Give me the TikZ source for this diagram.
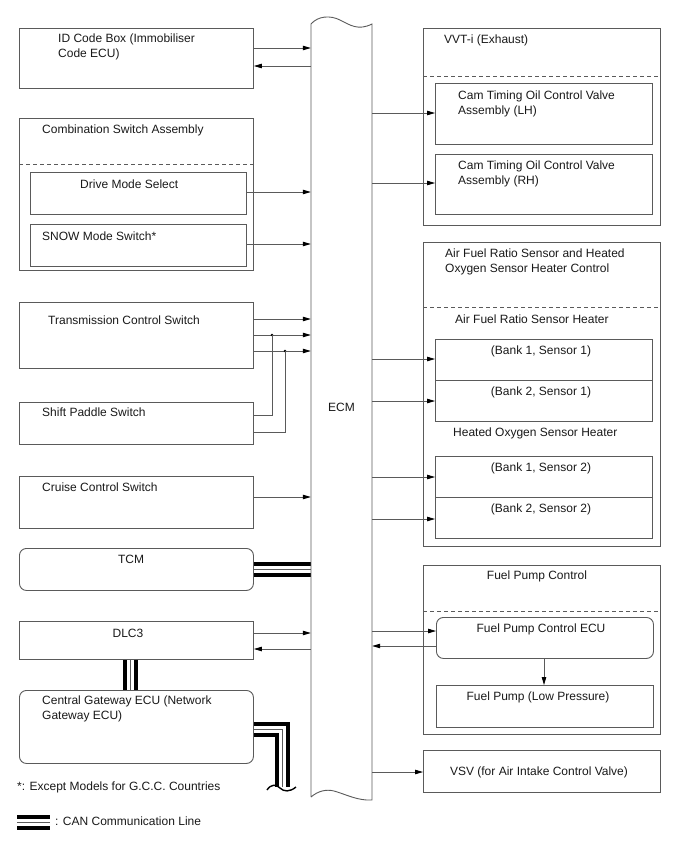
\documentclass[tikz,border=0pt]{standalone}
\usepackage{fontspec}
\setmainfont{Liberation Sans}
\usetikzlibrary{arrows.meta,positioning,calc}
\definecolor{lineGray}{RGB}{90,90,90}
\definecolor{textBlack}{RGB}{25,25,25}

\begin{document}
\begin{tikzpicture}[x=1pt, y=-1pt,
  box/.style={draw=lineGray, line width=0.9pt, inner sep=0, anchor=north west},
  rbox/.style={box, rounded corners=7pt},
  lbl/.style={font=\fontsize{12}{15}\selectfont, text=textBlack, inner sep=0, anchor=west, align=left},
  clbl/.style={lbl, anchor=center, align=center},
  sep/.style={draw=lineGray, line width=0.8pt, dash pattern=on 4pt off 3pt},
  wire/.style={draw=lineGray, line width=0.8pt},
  arr/.style={wire, -{Triangle[length=8pt, width=4.5pt, color=black]}},
  can/.style={draw=black, line width=15pt, postaction={draw=white, line width=7pt}, postaction={draw=lineGray, line width=0.8pt}}]
  \useasboundingbox (0,0) rectangle (688,852);

  % left side
  \node[box, minimum width=234pt, minimum height=60pt] (idbox) at (19,28) {};
  \node[lbl] (idtxt) at (58,46.5) {ID Code Box (Immobiliser\\Code ECU)};

  \node[box, minimum width=234pt, minimum height=152pt] (csa) at (19,118) {};
  \node[lbl] (csatxt) at (42,130) {Combination Switch Assembly};
  \draw[sep] (csa.west |- 0,164) -- (csa.east |- 0,164);
  \node[box, minimum width=216pt, minimum height=42pt] (dms) at (30,172) {};
  \node[lbl] (dmstxt) at (80,184) {Drive Mode Select};
  \node[box, minimum width=216pt, minimum height=42pt] (snow) at (30,224) {};
  \node[lbl] (snowtxt) at (42,236) {SNOW Mode Switch*};

  \node[box, minimum width=234pt, minimum height=66pt] (tcs) at (19,302) {};
  \node[lbl] (tcstxt) at (48,320) {Transmission Control Switch};
  \node[box, minimum width=234pt, minimum height=42pt] (sps) at (19,402) {};
  \node[lbl] (spstxt) at (42,412) {Shift Paddle Switch};
  \node[box, minimum width=234pt, minimum height=52pt] (ccs) at (19,476) {};
  \node[lbl] (ccstxt) at (42,487) {Cruise Control Switch};

  \node[rbox, minimum width=234pt, minimum height=42pt] (tcm) at (19,548) {};
  \node[clbl] (tcmtxt) at (131,559) {TCM};
  \node[box, minimum width=234pt, minimum height=38pt] (dlc) at (19,621) {};
  \node[clbl] (dlctxt) at (128,633) {DLC3};
  \node[rbox, minimum width=234pt, minimum height=73pt] (gw) at (19,690) {};
  \node[lbl] (gwtxt) at (42,709) {Central Gateway ECU (Network\\Gateway ECU)};

  \node[lbl] (note) at (17,787) {*: Except Models for G.C.C. Countries};
  \coordinate (key1) at (17,822);
  \coordinate (key2) at (50,822);
  \node[lbl] (keytxt) at (55,821) {: CAN Communication Line};

  % right side
  \node[box, minimum width=237pt, minimum height=197pt] (vvt) at (423,28) {};
  \node[lbl] (vvttxt) at (444,40) {VVT-i (Exhaust)};
  \draw[sep] (vvt.west |- 0,76) -- (vvt.east |- 0,76);
  \node[box, minimum width=217pt, minimum height=61pt] (lh) at (435,83) {};
  \node[lbl] (lhtxt) at (458,104) {Cam Timing Oil Control Valve\\Assembly (LH)};
  \node[box, minimum width=217pt, minimum height=60pt] (rh) at (435,154) {};
  \node[lbl] (rhtxt) at (458,174) {Cam Timing Oil Control Valve\\Assembly (RH)};

  \node[box, minimum width=237pt, minimum height=304pt] (afr) at (423,242) {};
  \node[lbl] (afrtxt) at (445,262) {Air Fuel Ratio Sensor and Heated\\Oxygen Sensor Heater Control};
  \draw[sep] (afr.west |- 0,307) -- (afr.east |- 0,307);
  \node[lbl] (afhtxt) at (455,319) {Air Fuel Ratio Sensor Heater};
  \node[box, minimum width=217pt, minimum height=41pt] (b1s1) at (435,339) {};
  \node[clbl] (b1s1txt) at (541,351) {(Bank 1, Sensor 1)};
  \node[box, minimum width=217pt, minimum height=41pt] (b2s1) at (435,380) {};
  \node[clbl] (b2s1txt) at (541,392) {(Bank 2, Sensor 1)};
  \node[lbl] (hoxtxt) at (453,433) {Heated Oxygen Sensor Heater};
  \node[box, minimum width=217pt, minimum height=41pt] (b1s2) at (435,456) {};
  \node[clbl] (b1s2txt) at (541,468) {(Bank 1, Sensor 2)};
  \node[box, minimum width=217pt, minimum height=41pt] (b2s2) at (435,497) {};
  \node[clbl] (b2s2txt) at (541,509) {(Bank 2, Sensor 2)};

  \node[box, minimum width=237pt, minimum height=169pt] (fpc) at (423,565) {};
  \node[clbl] (fpctxt) at (537,576) {Fuel Pump Control};
  \draw[sep] (fpc.west |- 0,611) -- (fpc.east |- 0,611);
  \node[rbox, minimum width=217pt, minimum height=41pt] (fpecu) at (436,617) {};
  \node[clbl] (fpecutxt) at (541,629) {Fuel Pump Control ECU};
  \node[box, minimum width=217pt, minimum height=42pt] (fp) at (436,685) {};
  \node[clbl] (fptxt) at (538,697) {Fuel Pump (Low Pressure)};

  \node[box, minimum width=237pt, minimum height=42pt] (vsv) at (423,750) {};
  \node[clbl] (vsvtxt) at (539,772) {VSV (for Air Intake Control Valve)};

  % ECM
  \node[clbl, minimum width=61pt] (ecm) at (341.5,407) {ECM};

  % CAN lines
  \draw[can] (tcm.east |- 0,569) -- (ecm.west |- 0,569);
  \draw[can] (dlc.south -| 130,0) -- (gw.north -| 130,0);
  \coordinate (canend) at (282,787);
  \draw[can] (gw.east |- 0,729.5) -| (canend);
  \draw[line width=1.4pt] (267,790) .. controls (271,784) and (276,784) .. (280,788)
    .. controls (284,792) and (290,792) .. (296,787);
  \draw[can] (key1) -- (key2);

  \draw[wire, line width=0.9pt] (311,797) -- (311,24)
    .. controls (318,16) and (330,15) .. (340,20)
    .. controls (350,25) and (358,31) .. (372,24) -- (372,800)
    .. controls (358,801) and (345,794) .. (334,791)
    .. controls (326,789) and (318,791) .. (311,797);

  % signals to ECM
  \draw[arr] (idbox.east |- 0,48) -- (ecm.west |- 0,48);
  \draw[arr] (ecm.west |- 0,66) -- (idbox.east |- 0,66);
  \draw[arr] (dms.east |- 0,192) -- (ecm.west |- 0,192);
  \draw[arr] (snow.east |- 0,244) -- (ecm.west |- 0,244);
  \draw[arr] (tcs.east |- 0,319) -- (ecm.west |- 0,319);
  \draw[arr] (tcs.east |- 0,335) -- (ecm.west |- 0,335);
  \draw[arr] (tcs.east |- 0,351) -- (ecm.west |- 0,351);
  \coordinate (j1) at (272,335);
  \coordinate (j2) at (285,351);
  \fill (j1) circle (1.4pt) (j2) circle (1.4pt);
  \draw[wire] (sps.east |- 0,415) -| (j1);
  \draw[wire] (sps.east |- 0,432) -| (j2);
  \draw[arr] (ccs.east |- 0,497) -- (ecm.west |- 0,497);
  \draw[arr] (dlc.east |- 0,633) -- (ecm.west |- 0,633);
  \draw[arr] (ecm.west |- 0,649) -- (dlc.east |- 0,649);

  % signals from ECM
  \draw[arr] (ecm.east |- 0,113) -- (lh.west |- 0,113);
  \draw[arr] (ecm.east |- 0,183) -- (rh.west |- 0,183);
  \draw[arr] (ecm.east |- 0,359) -- (b1s1.west |- 0,359);
  \draw[arr] (ecm.east |- 0,401) -- (b2s1.west |- 0,401);
  \draw[arr] (ecm.east |- 0,477) -- (b1s2.west |- 0,477);
  \draw[arr] (ecm.east |- 0,519) -- (b2s2.west |- 0,519);
  \draw[arr] (ecm.east |- 0,631) -- (fpecu.west |- 0,631);
  \draw[arr] (fpecu.west |- 0,646) -- (ecm.east |- 0,646);
  \draw[arr] (fpecu.south -| 544,0) -- (fp.north -| 544,0);
  \draw[arr] (ecm.east |- 0,772) -- (vsv.west |- 0,772);
\end{tikzpicture}
\end{document}
